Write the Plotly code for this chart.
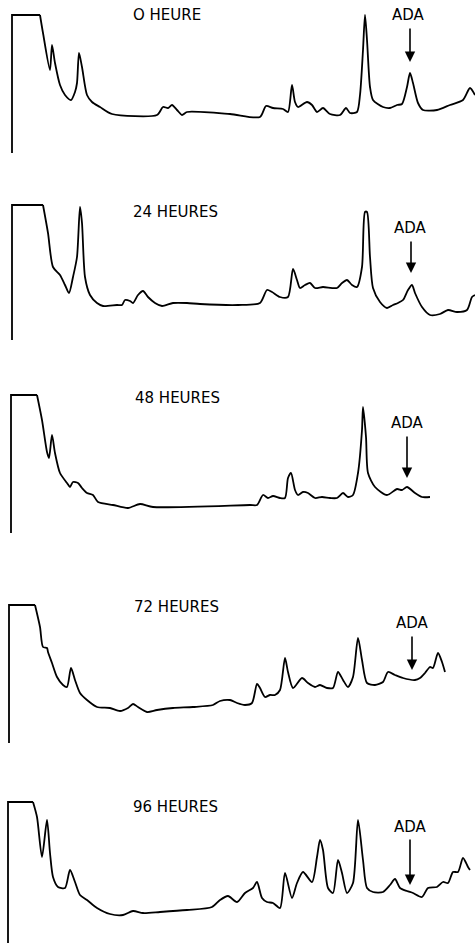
import plotly.graph_objects as go

# Retention position (x) and detector response (y)
t0_x = [12,12,40,43,50,52,55,60,65,71,75,77,79,82,87,92,100,112,157,163,168,172,177,182,187,230,260,266,273,283,288,292,295,298,307,312,317,323,330,340,346,350,357,360,363,365,367,370,373,383,390,397,402,407,410,413,418,423,437,450,463,470,475]
t0_y = [0,138,138,120,83,108,90,68,58,53,61,70,100,86,58,51,46,39,38,46,45,48,43,38,41,39,36,47,45,44,41,68,51,46,51,48,41,45,39,38,45,40,41,58,103,138,113,66,53,46,45,48,49,66,80,70,50,43,43,48,53,65,58]

t24_x = [12,12,43,48,53,60,65,69,73,77,80,82,85,90,97,103,117,122,125,130,133,138,143,148,155,162,173,187,200,238,260,267,272,280,288,293,297,300,305,310,315,323,337,342,347,352,357,362,365,367,370,373,380,387,393,398,403,408,412,415,422,430,440,448,457,467,472,475]
t24_y = [0,135,135,107,73,65,55,47,63,83,133,117,63,45,37,34,35,35,40,39,37,45,49,43,37,34,37,37,36,35,37,50,48,43,43,71,60,52,55,57,52,53,52,57,60,55,53,73,128,128,83,52,38,32,35,37,40,50,55,47,33,25,26,30,28,30,43,45]

t48_x = [11,11,37,42,47,49,52,55,60,67,70,73,78,82,87,93,98,113,128,140,153,250,257,263,268,273,280,285,288,291,295,298,303,308,315,322,330,337,343,348,353,358,362,363,366,368,375,387,397,402,407,415,422,430]
t48_y = [0,138,138,113,81,75,98,80,60,50,46,51,50,45,40,38,31,28,25,29,26,28,28,38,35,37,35,35,55,60,43,38,41,40,35,36,35,35,40,36,38,60,103,126,96,60,46,38,44,43,46,40,36,36]

t72_x = [9,9,35,40,43,47,48,52,57,63,67,71,75,80,87,97,110,120,128,133,138,147,157,173,193,213,220,230,237,245,252,257,260,265,270,275,280,285,288,293,302,308,315,320,327,333,338,343,348,353,358,362,367,375,383,388,395,403,415,420,425,430,433,438,442,445]
t72_y = [0,138,138,116,96,95,91,80,66,58,56,75,63,50,43,36,35,32,35,39,36,31,33,35,36,38,42,43,40,38,40,59,55,46,48,48,53,85,71,55,65,60,56,58,55,55,71,63,56,66,105,83,60,58,61,71,68,65,63,65,70,76,75,90,81,71]

t96_x = [8,8,33,37,42,47,50,53,58,65,70,75,80,87,97,110,123,133,143,160,187,212,220,228,237,245,253,257,262,267,273,280,285,292,297,303,312,317,320,323,328,333,338,342,347,353,358,363,367,373,383,390,395,400,407,413,422,428,437,443,448,453,458,463,468,470]
t96_y = [0,141,141,126,86,123,90,66,56,55,73,61,48,43,35,29,28,32,30,31,33,36,43,47,41,50,55,61,45,41,40,35,70,45,60,71,61,86,103,93,55,50,83,70,50,60,123,83,55,51,51,58,64,55,52,50,46,55,56,61,60,71,71,85,76,73]

titles = ["O HEURE", "24 HEURES", "48 HEURES", "72 HEURES", "96 HEURES"]
title_pos = [(167, 138), (175, 128), (177, 135), (176, 136), (175, 136)]
ada_label = [(408, 138), (410, 112), (407, 110), (412, 120), (410, 116)]
ada_arrow = [(410, 126, 91), (411, 100, 67), (407, 98, 55), (412, 108, 73), (410, 105, 58)]

series = [(t0_x, t0_y), (t24_x, t24_y), (t48_x, t48_y), (t72_x, t72_y), (t96_x, t96_y)]

# panel layout (pixel top/bottom of each panel in a 943 px tall figure)
H = 943
panels = [(0, 153), (190, 340), (380, 533), (570, 743), (780, 943)]

fig = go.Figure()
layout = dict(width=475, height=943, margin=dict(l=0, r=0, t=0, b=0),
              paper_bgcolor="white", plot_bgcolor="white", showlegend=False,
              xaxis=dict(range=[0, 475], visible=False, fixedrange=True))
annotations = []
font = dict(family="DejaVu Sans", size=15, color="black")
line = dict(color="black", width=1.8)
for i, ((xs, ys), (top, bot)) in enumerate(zip(series, panels)):
    yname = "y" if i == 0 else f"y{i+1}"
    key = "yaxis" if i == 0 else f"yaxis{i+1}"
    layout[key] = dict(domain=[1 - bot / H, 1 - top / H], range=[0, bot - top],
                       visible=False, fixedrange=True, anchor="x")
    # injection step (vertical rise and saturated plateau) drawn straight
    fig.add_trace(go.Scatter(x=xs[:3], y=ys[:3], mode="lines", yaxis=yname, xaxis="x",
                             line=line, hoverinfo="skip", cliponaxis=False))
    # remaining trace smoothed
    fig.add_trace(go.Scatter(x=xs[2:], y=ys[2:], mode="lines", yaxis=yname, xaxis="x",
                             line=dict(color="black", width=1.8, shape="spline", smoothing=0.7),
                             hoverinfo="skip", cliponaxis=False))
    tx, ty = title_pos[i]
    annotations.append(dict(x=tx, y=ty, xref="x", yref=yname, text=titles[i],
                            showarrow=False, font=font))
    ax_, ay_ = ada_label[i]
    annotations.append(dict(x=ax_, y=ay_, xref="x", yref=yname, text="ADA",
                            showarrow=False, font=font))
    arx, y0, y1 = ada_arrow[i]
    annotations.append(dict(x=arx, y=y1, ax=arx, ay=y0, xref="x", yref=yname,
                            axref="x", ayref=yname, text="", showarrow=True,
                            arrowhead=2, arrowsize=1.3, arrowwidth=1.6,
                            arrowcolor="black"))
layout["annotations"] = annotations
fig.update_layout(**layout)
fig.write_html("out.html")
